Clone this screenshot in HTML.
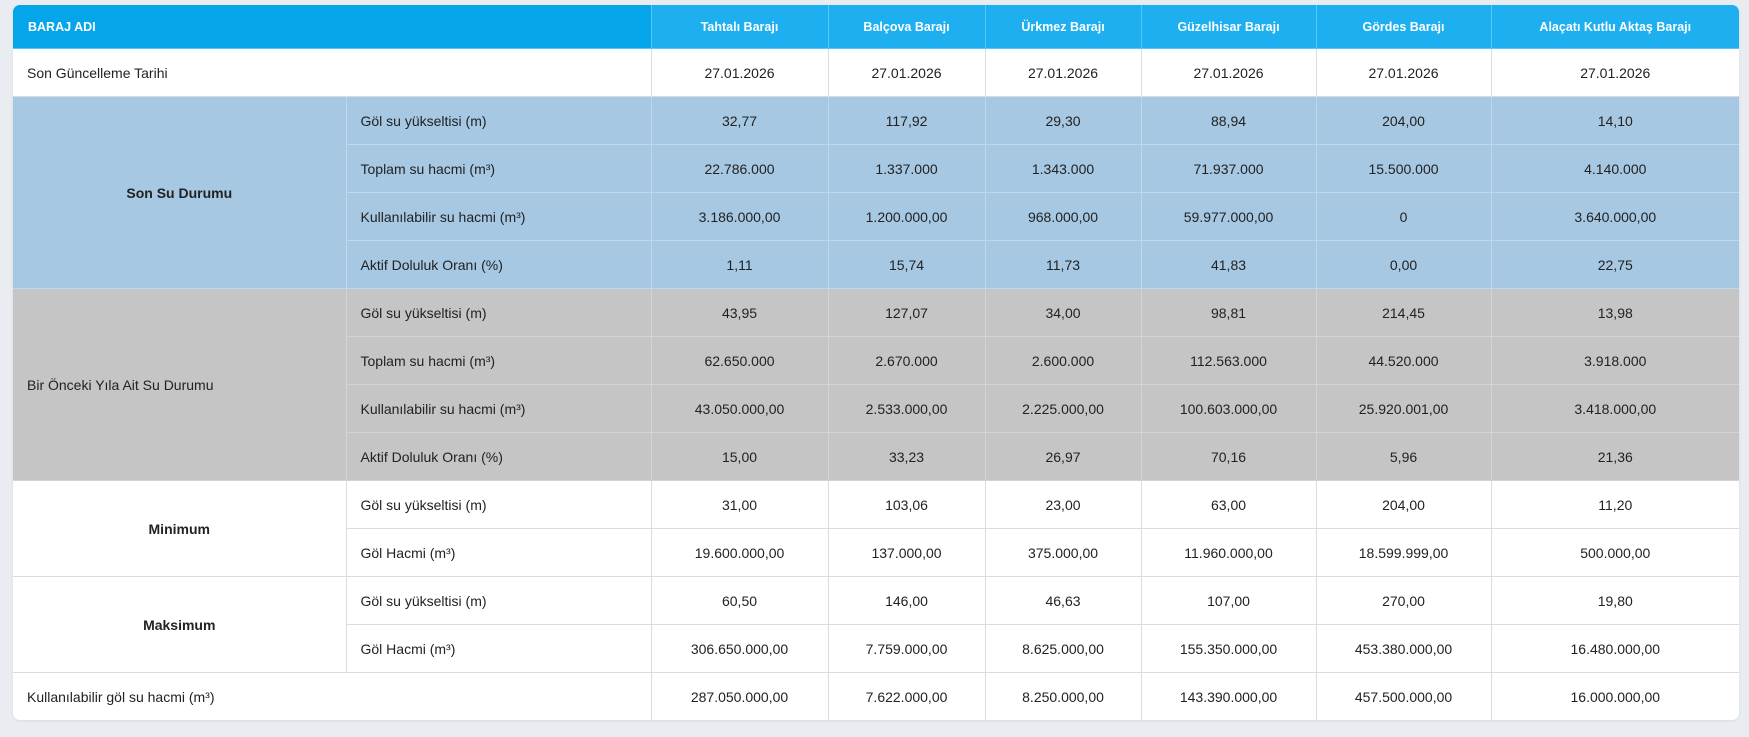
<!DOCTYPE html>
<html><head><meta charset="utf-8"><style>
html,body{margin:0;padding:0;background:#e9edf2;width:1749px;height:737px;overflow:hidden}
.wrap{position:absolute;left:13px;top:5px;width:1726px;border-radius:7px;overflow:hidden;background:#fff;box-shadow:0 1px 3px rgba(0,0,0,.08)}
table{border-collapse:collapse;table-layout:fixed;width:1726px;font-family:"Liberation Sans",sans-serif;font-size:14px;color:#222}
td,th{border:1px solid #dcdcdc;text-align:center;padding:0;height:47px}
th{background:#1eaff0;color:#fff;font-size:12.5px;font-weight:bold;height:43px;border-color:#5cc6f3;border-top:none}
th.f{background:#05a5ea;text-align:left;padding-left:15px}
td.l{text-align:left;padding-left:14px}
tr.b td{background:#a6c8e3;border-color:#c2d7e8}
tr.g td{background:#c4c5c4;border-color:#d4d4d4}
td.c{font-weight:bold}
tr td:first-child,tr th:first-child{border-left:none}
tr td:last-child,tr th:last-child{border-right:none}
tr:last-child td{border-bottom:none}
</style></head><body><div class="wrap"><table>
<colgroup><col style="width:333px"><col style="width:305px"><col style="width:177px"><col style="width:157px"><col style="width:156px"><col style="width:175px"><col style="width:175px"><col style="width:248px"></colgroup>
<tr><th class="f" colspan="2">BARAJ ADI</th><th>Tahtalı Barajı</th><th>Balçova Barajı</th><th>Ürkmez Barajı</th><th>Güzelhisar Barajı</th><th>Gördes Barajı</th><th>Alaçatı Kutlu Aktaş Barajı</th></tr>
<tr><td class="l" colspan="2">Son Güncelleme Tarihi</td><td>27.01.2026</td><td>27.01.2026</td><td>27.01.2026</td><td>27.01.2026</td><td>27.01.2026</td><td>27.01.2026</td></tr>
<tr class="b"><td class="c" rowspan="4">Son Su Durumu</td><td class="l">Göl su yükseltisi (m)</td><td>32,77</td><td>117,92</td><td>29,30</td><td>88,94</td><td>204,00</td><td>14,10</td></tr>
<tr class="b"><td class="l">Toplam su hacmi (m³)</td><td>22.786.000</td><td>1.337.000</td><td>1.343.000</td><td>71.937.000</td><td>15.500.000</td><td>4.140.000</td></tr>
<tr class="b"><td class="l">Kullanılabilir su hacmi (m³)</td><td>3.186.000,00</td><td>1.200.000,00</td><td>968.000,00</td><td>59.977.000,00</td><td>0</td><td>3.640.000,00</td></tr>
<tr class="b"><td class="l">Aktif Doluluk Oranı (%)</td><td>1,11</td><td>15,74</td><td>11,73</td><td>41,83</td><td>0,00</td><td>22,75</td></tr>
<tr class="g"><td class="l" rowspan="4">Bir Önceki Yıla Ait Su Durumu</td><td class="l">Göl su yükseltisi (m)</td><td>43,95</td><td>127,07</td><td>34,00</td><td>98,81</td><td>214,45</td><td>13,98</td></tr>
<tr class="g"><td class="l">Toplam su hacmi (m³)</td><td>62.650.000</td><td>2.670.000</td><td>2.600.000</td><td>112.563.000</td><td>44.520.000</td><td>3.918.000</td></tr>
<tr class="g"><td class="l">Kullanılabilir su hacmi (m³)</td><td>43.050.000,00</td><td>2.533.000,00</td><td>2.225.000,00</td><td>100.603.000,00</td><td>25.920.001,00</td><td>3.418.000,00</td></tr>
<tr class="g"><td class="l">Aktif Doluluk Oranı (%)</td><td>15,00</td><td>33,23</td><td>26,97</td><td>70,16</td><td>5,96</td><td>21,36</td></tr>
<tr><td class="c" rowspan="2">Minimum</td><td class="l">Göl su yükseltisi (m)</td><td>31,00</td><td>103,06</td><td>23,00</td><td>63,00</td><td>204,00</td><td>11,20</td></tr>
<tr><td class="l">Göl Hacmi (m³)</td><td>19.600.000,00</td><td>137.000,00</td><td>375.000,00</td><td>11.960.000,00</td><td>18.599.999,00</td><td>500.000,00</td></tr>
<tr><td class="c" rowspan="2">Maksimum</td><td class="l">Göl su yükseltisi (m)</td><td>60,50</td><td>146,00</td><td>46,63</td><td>107,00</td><td>270,00</td><td>19,80</td></tr>
<tr><td class="l">Göl Hacmi (m³)</td><td>306.650.000,00</td><td>7.759.000,00</td><td>8.625.000,00</td><td>155.350.000,00</td><td>453.380.000,00</td><td>16.480.000,00</td></tr>
<tr><td class="l" colspan="2">Kullanılabilir göl su hacmi (m³)</td><td>287.050.000,00</td><td>7.622.000,00</td><td>8.250.000,00</td><td>143.390.000,00</td><td>457.500.000,00</td><td>16.000.000,00</td></tr>
</table></div></body></html>
